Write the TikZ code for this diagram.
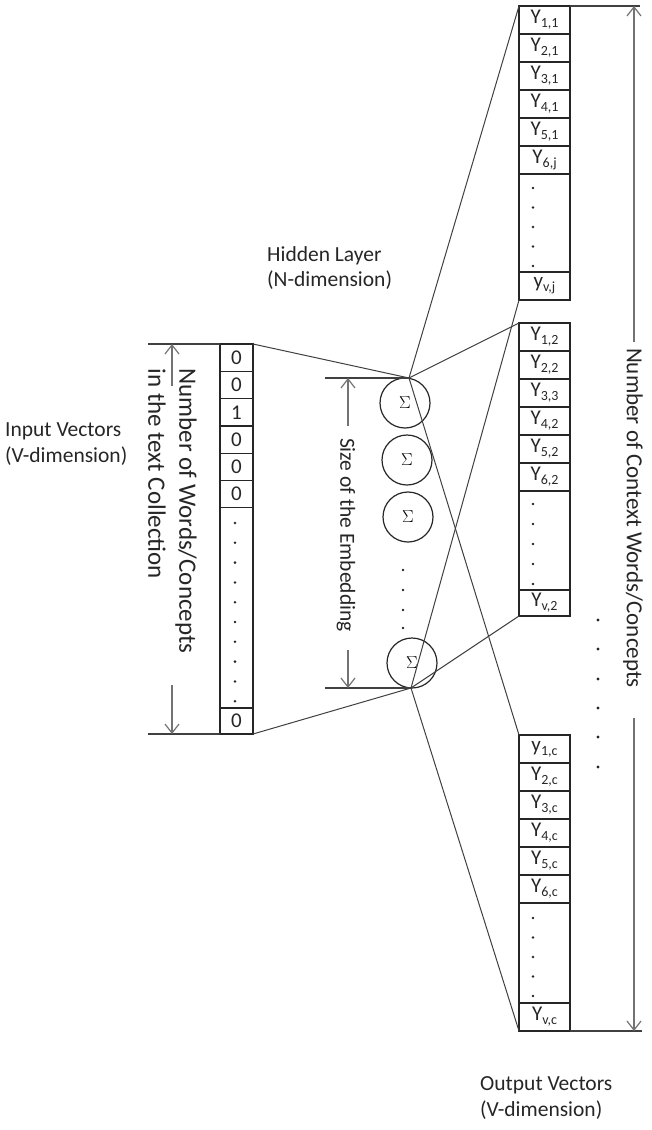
\documentclass[tikz,border=0pt]{standalone}
\usepackage{fontspec}
\setmainfont{Carlito}
\usetikzlibrary{arrows.meta}
\newcommand{\ysb}[2]{#1\raisebox{-0.2em}{\fontsize{14}{14}\selectfont #2}}
\begin{document}
\begin{tikzpicture}[x=1pt,y=-1pt,
  cellbox/.style={draw=black!85,line width=1.2pt,inner sep=0pt,outer sep=0pt,anchor=north west,
    text=black!85,font=\fontsize{21}{21}\selectfont},
  ocell/.style={cellbox,minimum width=51pt,minimum height=28pt},
  icell/.style={cellbox,minimum width=33pt,minimum height=27.3pt},
  neuron/.style={draw=black!85,line width=1.2pt,circle,minimum size=50pt,inner sep=0pt,
    font=\fontsize{17}{17}\selectfont},
  wire/.style={draw=black!75,line width=1pt},
  dimline/.style={draw=black!75,line width=1.3pt},
  dimarrow/.style={draw=black!55,line width=1.2pt,-{Straight Barb[length=9pt,width=14pt]}},
  lbl/.style={text=black!85,align=left,inner sep=0pt,font=\fontsize{21.5}{25.5}\selectfont},
  dotmark/.style={fill=black!85,draw=none,circle,inner sep=0pt,minimum size=2.8pt}
]
\useasboundingbox (0,0) rectangle (651,1130);

% ---------- input column ----------
\node[icell] (i1) at (220,344) {0};
\node[icell] (i2) at (220,371.3) {0};
\node[icell] (i3) at (220,398.6) {1};
\node[icell] (i4) at (220,425.9) {0};
\node[icell] (i5) at (220,453.2) {0};
\node[icell] (i6) at (220,480.5) {0};
\node[icell,minimum height=200.2pt] (id) at (220,507.8) {};
\node[icell,minimum height=26pt] (iv) at (220,708) {0};
\foreach \k in {0,...,9}{\node[dotmark] at (235,523+19.8*\k) {};}

% ---------- hidden layer ----------
\node[neuron] (h1) at (405,403) {$\Sigma$};
\node[neuron] (h2) at (407,460) {$\Sigma$};
\node[neuron] (h3) at (408,517) {$\Sigma$};
\node[neuron] (h4) at (412,663) {$\Sigma$};
\foreach \yy in {570,590,610,628}{\node[dotmark] at (403,\yy) {};}
\coordinate (P1) at (409,378);
\coordinate (P2) at (411,688);

% ---------- output column 1 ----------
\node[ocell] (a1) at (519,6) {\ysb{Y}{1,1}};
\node[ocell] (a2) at (519,34) {\ysb{Y}{2,1}};
\node[ocell] (a3) at (519,62) {\ysb{Y}{3,1}};
\node[ocell] (a4) at (519,90) {\ysb{Y}{4,1}};
\node[ocell] (a5) at (519,118) {\ysb{Y}{5,1}};
\node[ocell] (a6) at (519,146) {\ysb{Y}{6,j}};
\node[ocell,minimum height=98pt] (ad) at (519,174) {};
\node[ocell] (av) at (519,272) {\ysb{y}{v,j}};
\foreach \k in {0,...,4}{\node[dotmark] at (533,188+19.5*\k) {};}

% ---------- output column 2 ----------
\node[ocell] (b1) at (519,323) {\ysb{Y}{1,2}};
\node[ocell] (b2) at (519,351) {\ysb{Y}{2,2}};
\node[ocell] (b3) at (519,379) {\ysb{Y}{3,3}};
\node[ocell] (b4) at (519,407) {\ysb{Y}{4,2}};
\node[ocell] (b5) at (519,435) {\ysb{Y}{5,2}};
\node[ocell] (b6) at (519,463) {\ysb{Y}{6,2}};
\node[ocell,minimum height=99pt] (bd) at (519,491) {};
\node[ocell,minimum height=26pt] (bv) at (519,590) {\ysb{Y}{v,2}};
\foreach \k in {0,...,4}{\node[dotmark] at (533,504+20*\k) {};}

% ---------- output column 3 ----------
\node[ocell] (c1) at (519,735) {\ysb{y}{1,c}};
\node[ocell] (c2) at (519,763) {\ysb{Y}{2,c}};
\node[ocell] (c3) at (519,791) {\ysb{Y}{3,c}};
\node[ocell] (c4) at (519,819) {\ysb{Y}{4,c}};
\node[ocell] (c5) at (519,847) {\ysb{Y}{5,c}};
\node[ocell] (c6) at (519,875) {\ysb{Y}{6,c}};
\node[ocell,minimum height=100pt] (cd) at (519,903) {};
\node[ocell] (cv) at (519,1003) {\ysb{Y}{v,c}};
\foreach \k in {0,...,4}{\node[dotmark] at (533,918+19.5*\k) {};}

% dots between output columns
\foreach \yy in {620,649,679,708,737,767}{\node[dotmark,minimum size=3.2pt] at (598,\yy) {};}

% ---------- connections ----------
\draw[wire] (i1.north east) -- (P1);
\draw[wire] (iv.south east) -- (P2);
\draw[wire] (P1) -- (a1.north west);
\draw[wire] (P1) -- (b1.north west);
\draw[wire] (P1) -- (c1.north west);
\draw[wire] (P2) -- (av.south west);
\draw[wire] (P2) -- (bv.south west);
\draw[wire] (P2) -- (cv.south west);

% ---------- input dimension ----------
\coordinate (ilt) at (148,344);
\coordinate (ilb) at (148,734);
\coordinate (iat) at (172,344);
\coordinate (ias) at (172,386);
\coordinate (iab) at (172,734);
\coordinate (iae) at (172,685);
\draw[dimline] (ilt) -- (i1.north west);
\draw[dimline] (ilb) -- (iv.south west);
\draw[dimarrow] (ias) -- (iat);
\draw[dimarrow] (iae) -- (iab);
\node[lbl,rotate=-90,font=\fontsize{25}{31}\selectfont] (itxt) at (172.5,511) {Number of Words/Concepts\\in the text Collection};

% ---------- embedding dimension ----------
\coordinate (elt) at (325,378);
\coordinate (elb) at (325,688);
\coordinate (eat) at (348,378);
\coordinate (eas) at (348,426);
\coordinate (eab) at (348,688);
\coordinate (eae) at (348,650);
\draw[dimline] (elt) -- (P1);
\draw[dimline] (elb) -- (P2);
\draw[dimarrow] (eas) -- (eat);
\draw[dimarrow] (eae) -- (eab);
\node[lbl,rotate=-90] (etxt) at (346,535) {Size of the Embedding};

% ---------- output dimension ----------
\coordinate (olt) at (640,6);
\coordinate (olb) at (642,1031);
\coordinate (oat) at (634,6);
\coordinate (oas) at (634,342);
\coordinate (oab) at (634,1031);
\coordinate (oae) at (634,718);
\draw[dimline] (a1.north east) -- (olt);
\draw[dimline] (cv.south east) -- (olb);
\draw[dimarrow] (oas) -- (oat);
\draw[dimarrow] (oae) -- (oab);
\node[lbl,rotate=-90,font=\fontsize{23}{27}\selectfont] (otxt) at (633,518) {Number of Context Words/Concepts};

% ---------- labels ----------
\node[lbl,anchor=west] (inlbl) at (5,444) {Input Vectors\\(V-dimension)};
\node[lbl,anchor=west] (hlbl) at (267,268) {Hidden Layer\\(N-dimension)};
\node[lbl,anchor=west] (outlbl) at (480,1098) {Output Vectors\\(V-dimension)};
\end{tikzpicture}
\end{document}
